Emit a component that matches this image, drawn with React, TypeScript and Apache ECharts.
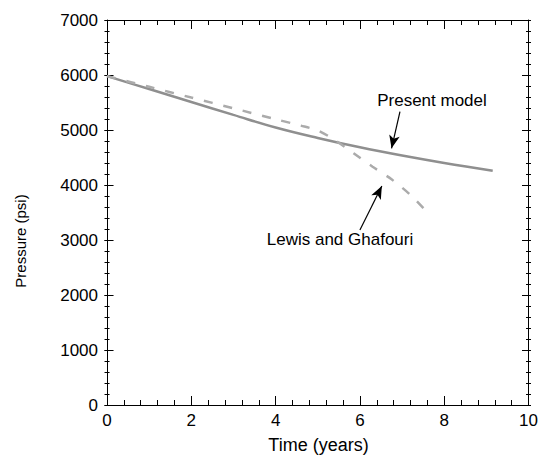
import React, { useEffect, useRef } from "react";
import * as echarts from "echarts";

const timeModel = [0, 1, 2, 3, 4, 5, 6, 7, 8, 9.15];
const pressureModel = [5980, 5745, 5510, 5275, 5045, 4855, 4685, 4535, 4400, 4260];

const timeLG = [0, 1, 2, 3, 4, 4.6, 5.0, 5.4, 5.85, 6.3, 6.75, 7.2, 7.6];
const pressureLG = [5980, 5785, 5590, 5395, 5195, 5080, 4990, 4820, 4576, 4333, 4103, 3818, 3500];

const X_MIN = 0, X_MAX = 10, X_MAJOR = 2, X_MINOR = 0.4;
const Y_MIN = 0, Y_MAX = 7000, Y_MAJOR = 1000, Y_MINOR = 200;

const FONT = "'Liberation Sans', Arial, Helvetica, sans-serif";

const GRID = { left: 107, right: 10, top: 20, bottom: 54 };
const W = 541, H = 459;
const GW = W - GRID.left - GRID.right;
const GH = H - GRID.top - GRID.bottom;

export default function App() {
  const ref = useRef<HTMLDivElement>(null);
  useEffect(() => {
    if (!ref.current) return;
    const chart = echarts.init(ref.current, undefined, { renderer: "svg" });
    // Tick-only axis placed on the opposite side of the grid by a negative offset,
    // so that its outward ticks point into the plot (inside ticks).
    const tickAxis = (pos: string, offset: number, min: number, max: number, step: number, len: number) => ({
      type: "value",
      position: pos,
      offset,
      min,
      max,
      interval: step,
      axisLine: { show: false, onZero: false },
      axisTick: { show: true, inside: false, length: len, lineStyle: { color: "#000", width: 1 } },
      splitLine: { show: false },
      axisLabel: { show: false },
    });
    const mainAxis = (pos: string, min: number, max: number, step: number, labels: boolean, margin: number) => ({
      type: "value",
      position: pos,
      min,
      max,
      interval: step,
      axisLine: { show: true, onZero: false, lineStyle: { color: "#000", width: 1 } },
      axisTick: { show: false },
      splitLine: { show: false },
      axisLabel: labels
        ? { show: true, color: "#000", fontSize: 17, fontFamily: FONT, margin, formatter: (v: number) => String(v) }
        : { show: false },
    });
    chart.setOption({
      animation: false,
      backgroundColor: "#fff",
      grid: { ...GRID },
      xAxis: [
        mainAxis("bottom", X_MIN, X_MAX, X_MAJOR, true, 7),
        mainAxis("top", X_MIN, X_MAX, X_MAJOR, false, 0),
        tickAxis("top", -GH, X_MIN, X_MAX, X_MAJOR, 9),
        tickAxis("top", -GH, X_MIN, X_MAX, X_MINOR, 5),
        tickAxis("bottom", -GH, X_MIN, X_MAX, X_MAJOR, 9),
        tickAxis("bottom", -GH, X_MIN, X_MAX, X_MINOR, 5),
      ],
      yAxis: [
        mainAxis("left", Y_MIN, Y_MAX, Y_MAJOR, true, 9),
        mainAxis("right", Y_MIN, Y_MAX, Y_MAJOR, false, 0),
        tickAxis("right", -GW, Y_MIN, Y_MAX, Y_MAJOR, 9),
        tickAxis("right", -GW, Y_MIN, Y_MAX, Y_MINOR, 5),
        tickAxis("left", -GW, Y_MIN, Y_MAX, Y_MAJOR, 9),
        tickAxis("left", -GW, Y_MIN, Y_MAX, Y_MINOR, 5),
      ],
      series: [
        {
          name: "Present model",
          type: "line",
          xAxisIndex: 0,
          yAxisIndex: 0,
          smooth: 0.4,
          symbol: "none",
          data: timeModel.map((t, i) => [t, pressureModel[i]]),
          lineStyle: { color: "#8f8f8f", width: 2.5 },
          markLine: {
            silent: true,
            animation: false,
            symbol: ["none", "arrow"],
            symbolSize: [8, 13],
            label: { show: false },
            lineStyle: { color: "#000", width: 1.2, type: "solid" },
            data: [[{ coord: [6.95, 5333] }, { coord: [6.75, 4667] }]],
          },
        },
        {
          name: "Lewis and Ghafouri",
          type: "line",
          xAxisIndex: 0,
          yAxisIndex: 0,
          smooth: 0.3,
          symbol: "none",
          data: timeLG.map((t, i) => [t, pressureLG[i]]),
          lineStyle: { color: "#ababab", width: 2.5, type: [9, 11] },
          markLine: {
            silent: true,
            animation: false,
            symbol: ["none", "arrow"],
            symbolSize: [8, 13],
            label: { show: false },
            lineStyle: { color: "#000", width: 1.2, type: "solid" },
            data: [[{ coord: [6.0, 3182] }, { coord: [6.52, 3982] }]],
          },
        },
      ],
      graphic: [
        {
          type: "text",
          x: 432,
          y: 100,
          style: { text: "Present model", fontSize: 17, fontFamily: FONT, fill: "#000", align: "center", verticalAlign: "middle" },
        },
        {
          type: "text",
          x: 340,
          y: 239,
          style: { text: "Lewis and Ghafouri", fontSize: 17, fontFamily: FONT, fill: "#000", align: "center", verticalAlign: "middle" },
        },
        {
          type: "text",
          x: 318.5,
          y: 445,
          style: { text: "Time (years)", fontSize: 18, fontFamily: FONT, fill: "#000", align: "center", verticalAlign: "middle" },
        },
        {
          type: "text",
          x: 20,
          y: 241,
          rotation: Math.PI / 2,
          style: { text: "Pressure (psi)", fontSize: 15, fontFamily: FONT, fill: "#000", align: "center", verticalAlign: "middle" },
        },
      ],
    });
    return () => chart.dispose();
  }, []);
  return <div ref={ref} style={{ width: W, height: H, position: "absolute", left: 0, top: 0 }} />;
}
